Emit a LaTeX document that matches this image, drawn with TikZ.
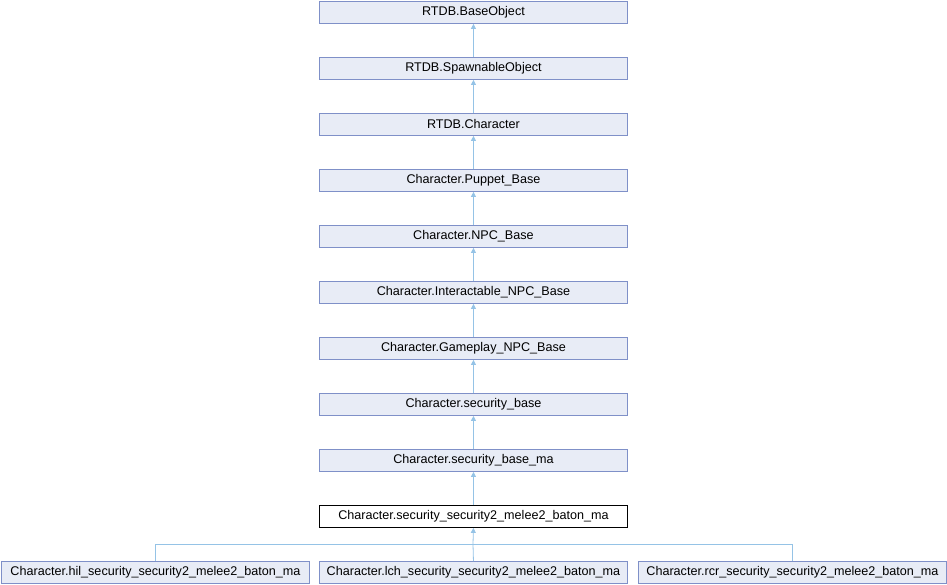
\documentclass[tikz,border=0pt]{standalone}
\usepackage{fontspec}
\setmainfont{Liberation Sans}
\usetikzlibrary{arrows.meta}
\definecolor{boxfill}{HTML}{E8ECF6}
\definecolor{boxline}{HTML}{7F90C8}
\definecolor{edgecol}{HTML}{95C3E6}
\tikzset{
  cls/.style={draw=boxline, fill=boxfill, line width=0.9pt, minimum width=308pt, minimum height=22pt, inner sep=0pt, font=\fontsize{12.6}{14}\selectfont, anchor=north west},
  cur/.style={cls, draw=black, fill=white},
  inh/.style={draw=edgecol, line width=0.8pt, -{Triangle[length=5pt,width=5pt]}},
  lin/.style={draw=edgecol, line width=0.8pt},
}
\begin{document}
\begin{tikzpicture}[x=1pt,y=-1pt]
\useasboundingbox (0,0) rectangle (947,584);
\node[cls] (n0) at (319,1) {RTDB.BaseObject};
\node[cls] (n1) at (319,57) {RTDB.SpawnableObject};
\node[cls] (n2) at (319,113) {RTDB.Character};
\node[cls] (n3) at (319,169) {Character.Puppet\_Base};
\node[cls] (n4) at (319,225) {Character.NPC\_Base};
\node[cls] (n5) at (319,281) {Character.Interactable\_NPC\_Base};
\node[cls] (n6) at (319,337) {Character.Gameplay\_NPC\_Base};
\node[cls] (n7) at (319,393) {Character.security\_base};
\node[cls] (n8) at (319,449) {Character.security\_base\_ma};
\node[cur] (n9) at (319,505) {Character.security\_security2\_melee2\_baton\_ma};
\node[cls] (b1) at (1,561) {Character.hil\_security\_security2\_melee2\_baton\_ma};
\node[cls] (b2) at (319,561) {Character.lch\_security\_security2\_melee2\_baton\_ma};
\node[cls] (b3) at (638,561) {Character.rcr\_security\_security2\_melee2\_baton\_ma};
\foreach \c/\p in {n1/n0,n2/n1,n3/n2,n4/n3,n5/n4,n6/n5,n7/n6,n8/n7,n9/n8}
  \draw[inh] (\c.north) -- (\p.south);
\coordinate (j) at (473,544);
\draw[lin] (b1.north) |- (j);
\draw[lin] (b3.north) |- (j);
\draw[lin] (b2.north) -- (j);
\draw[inh] (j) -- (n9.south);
\end{tikzpicture}
\end{document}
